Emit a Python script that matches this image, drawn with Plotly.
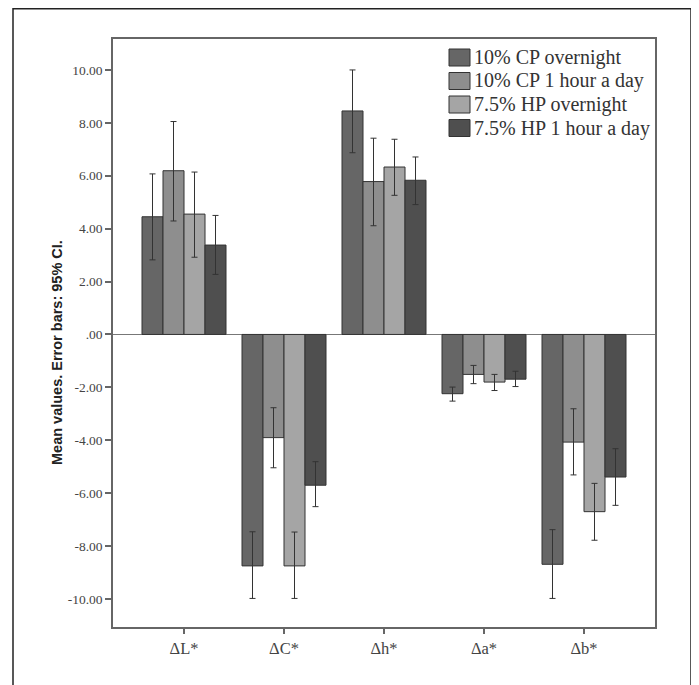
import plotly.graph_objects as go

categories = ["ΔL*", "ΔC*", "Δh*", "Δa*", "Δb*"]
series_names = ["10% CP overnight", "10% CP 1 hour a day", "7.5% HP overnight", "7.5% HP 1 hour a day"]

cp_overnight = [4.45, -8.75, 8.45, -2.24, -8.69]
cp_overnight_hi = [6.07, -7.46, 10.00, -1.99, -7.38]
cp_overnight_lo = [2.82, -9.98, 6.87, -2.52, -9.98]

cp_hour = [6.19, -3.90, 5.78, -1.51, -4.07]
cp_hour_hi = [8.05, -2.77, 7.42, -1.17, -2.81]
cp_hour_lo = [4.29, -5.04, 4.11, -1.86, -5.31]

hp_overnight = [4.55, -8.75, 6.33, -1.80, -6.70]
hp_overnight_hi = [6.14, -7.47, 7.38, -1.51, -5.63]
hp_overnight_lo = [2.92, -9.98, 5.26, -2.12, -7.78]

hp_hour = [3.38, -5.70, 5.83, -1.69, -5.39]
hp_hour_hi = [4.50, -4.81, 6.71, -1.39, -4.32]
hp_hour_lo = [2.27, -6.51, 4.91, -1.97, -6.46]

y_tickvals = [-10, -8, -6, -4, -2, 0, 2, 4, 6, 8, 10]
y_ticktext = ["-10.00", "-8.00", "-6.00", "-4.00", "-2.00", ".00", "2.00", "4.00", "6.00", "8.00", "10.00"]

colors = ["#666666", "#8e8e8e", "#a5a5a5", "#4f4f4f"]

series = [
    (cp_overnight, cp_overnight_hi, cp_overnight_lo),
    (cp_hour, cp_hour_hi, cp_hour_lo),
    (hp_overnight, hp_overnight_hi, hp_overnight_lo),
    (hp_hour, hp_hour_hi, hp_hour_lo),
]

SERIF = "Times New Roman, Liberation Serif, Tinos, serif"

fig = go.Figure()
for name, color, (vals, hi, lo) in zip(series_names, colors, series):
    fig.add_trace(go.Bar(
        x=categories, y=vals, name=name, showlegend=False,
        marker=dict(color=color, line=dict(color="#333333", width=1)),
        error_y=dict(type="data", symmetric=False,
                     array=[h - v for h, v in zip(hi, vals)],
                     arrayminus=[v - l for v, l in zip(vals, lo)],
                     color="#333333", thickness=1, width=3),
    ))

# page body has an 8px margin: work in screen pixels and shift
OFF = 8
W, H = 699 - OFF, 685 - OFF
L, R, T, B = 113 - OFF, 655 - OFF, 39 - OFF, 627 - OFF
pw, ph = R - L, B - T

def px(x):
    return (x - OFF - L) / pw

def py(y):
    return (B - (y - OFF)) / ph

fig.update_layout(
    width=W, height=H,
    margin=dict(l=L, r=W - R, t=T, b=H - B, pad=0),
    paper_bgcolor="white", plot_bgcolor="white",
    barmode="group", bargap=0.16, bargroupgap=0,
    showlegend=False,
    font=dict(family=SERIF, color="#444444"),
)

fig.update_yaxes(range=[-11.06, 11.17], tickvals=y_tickvals, ticktext=y_ticktext,
                 showgrid=False, zeroline=True, zerolinecolor="#777777", zerolinewidth=1,
                 showline=True, linecolor="#666666", linewidth=1.5, mirror=True,
                 ticks="outside", ticklen=6, tickcolor="#666666", tickwidth=1.5,
                 tickfont=dict(family=SERIF, size=13.5, color="#444444"))
fig.update_xaxes(range=[-0.71, 4.71], showgrid=False,
                 showline=True, linecolor="#666666", linewidth=1.5, mirror=True,
                 ticks="outside", ticklen=5, tickcolor="#666666", tickwidth=1.5,
                 tickfont=dict(family=SERIF, size=16.5, color="#444444"))

fig.add_annotation(text="<b>Mean values. Error bars: 95% CI.</b>",
                   xref="paper", yref="paper", x=px(57), y=py(353),
                   xanchor="center", yanchor="middle",
                   textangle=-90, showarrow=False,
                   font=dict(family="Liberation Sans, Arial, sans-serif", size=14.5, color="#222222"))

# custom legend (square swatches like the original)
for i, (name, color) in enumerate(zip(series_names, colors)):
    top = 49 + 23.5 * i
    fig.add_shape(type="rect", xref="paper", yref="paper",
                  x0=px(449), x1=px(470), y0=py(top + 17), y1=py(top),
                  line=dict(color="#333333", width=1), fillcolor=color)
    fig.add_annotation(text=name, xref="paper", yref="paper",
                       x=px(472), y=py(top + 8.5), xanchor="left", yanchor="middle",
                       showarrow=False,
                       font=dict(family=SERIF, size=20, color="#333333"))

# outer frame and shadow
fig.add_shape(type="rect", xref="paper", yref="paper",
              x0=px(13), x1=px(691), y0=py(700), y1=py(8.8),
              line=dict(color="#222222", width=1.5), fillcolor="rgba(0,0,0,0)")
fig.add_shape(type="rect", xref="paper", yref="paper",
              x0=px(692), x1=px(699), y0=py(700), y1=py(11),
              line=dict(width=0), fillcolor="#3a3a3a")

fig.write_html("out.html")
